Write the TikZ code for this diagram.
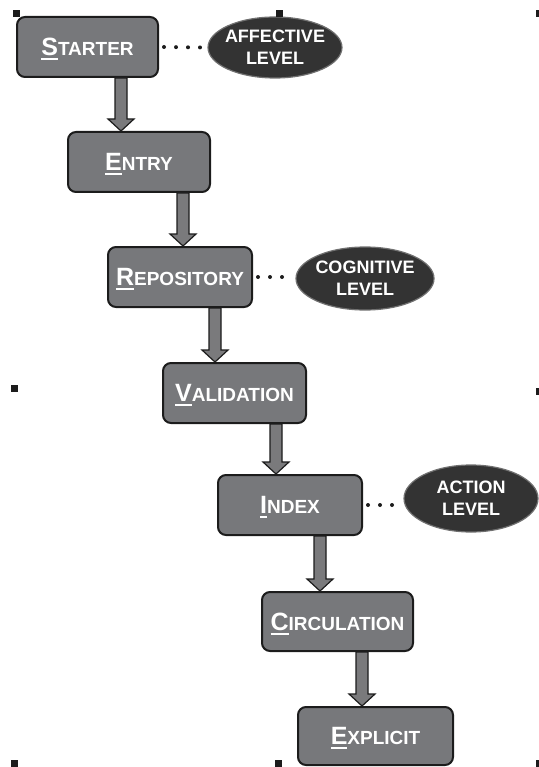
\documentclass[tikz,border=0pt]{standalone}
\usepackage{fontspec}
\setmainfont{Liberation Sans}
\usetikzlibrary{shapes.geometric}

\definecolor{boxgray}{HTML}{77787B}
\definecolor{boxline}{HTML}{1C1C1C}
\definecolor{lvlfill}{HTML}{333333}
\definecolor{lvledge}{HTML}{707070}
\definecolor{arrowgray}{HTML}{7A7A7C}

% first letter large and underlined, rest as small capitals
\newcommand{\capfirst}[2]{{\fontsize{25}{25}\selectfont\setbox0\hbox{#1}%
  \rlap{\smash{\rule[-4.5pt]{\wd0}{2pt}}}\box0}{\fontsize{19}{19}\selectfont #2}}

% broad arrow from the bottom of #1 to the top of #2, shifted by #3
\newcommand{\flowarrow}[3]{%
  \coordinate (ftop) at ([xshift=#3]#1.south);
  \coordinate (fbot) at (ftop |- #2.north);
  \draw[flow] ([xshift=-6pt]ftop) -- ([xshift=-6pt,yshift=12pt]fbot)
    -- ([xshift=-13pt,yshift=12pt]fbot) -- (fbot)
    -- ([xshift=13pt,yshift=12pt]fbot) -- ([xshift=6pt,yshift=12pt]fbot)
    -- ([xshift=6pt]ftop) -- cycle;}

\tikzset{
  stage/.style={draw=boxline, line width=2pt, fill=boxgray, rounded corners=8pt,
    minimum height=60pt, inner sep=0pt, text=white, font=\bfseries},
  level/.style={ellipse, draw=lvledge, line width=1.2pt, fill=lvlfill, inner sep=-8pt,
    text=white, align=center, font=\bfseries\fontsize{18}{22}\selectfont},
  flow/.style={fill=arrowgray, draw=boxline, line width=1.2pt, line join=miter},
  link/.style={draw=boxline, line width=4pt, line cap=round, dash pattern=on 0pt off 12pt},
  handle/.style={fill=boxline}
}

\begin{document}
\begin{tikzpicture}[x=1pt, y=-1pt]
  \useasboundingbox (0,0) rectangle (538,767);

  \node[stage, minimum width=141pt] (starter) at (87.5,47) {\capfirst{S}{TARTER}};
  \node[stage, minimum width=142pt] (entry) at (139,162) {\capfirst{E}{NTRY}};
  \node[stage, minimum width=144pt] (repository) at (180,277) {\capfirst{R}{EPOSITORY}};
  \node[stage, minimum width=143pt] (validation) at (234.5,393) {\capfirst{V}{ALIDATION}};
  \node[stage, minimum width=144pt] (index) at (290,505) {\capfirst{I}{NDEX}};
  \node[stage, minimum width=151pt, minimum height=59pt] (circulation) at (337.5,621.5) {\capfirst{C}{IRCULATION}};
  \node[stage, minimum width=155pt, minimum height=58pt] (explicit) at (375.5,736) {\capfirst{E}{XPLICIT}};

  \node[level, minimum width=134pt, minimum height=61pt] (affective) at (275,47.5) {AFFECTIVE\\LEVEL};
  \node[level, minimum width=138pt, minimum height=63pt] (cognitive) at (365,278.5) {COGNITIVE\\LEVEL};
  \node[level, minimum width=134pt, minimum height=67pt] (action) at (471,498.5) {ACTION\\LEVEL};

  % dotted links to the levels
  \draw[link] ([xshift=5pt]starter.east) -- ([xshift=-4pt]affective.west);
  \draw[link] ([xshift=5pt]repository.east) -- ([xshift=-4pt]repository.east -| cognitive.west);
  \draw[link] ([xshift=5pt]index.east) -- ([xshift=-2pt]index.east -| action.west);

  \flowarrow{starter}{entry}{33.5pt}
  \flowarrow{entry}{repository}{44pt}
  \flowarrow{repository}{validation}{35pt}
  \flowarrow{validation}{index}{41.5pt}
  \flowarrow{index}{circulation}{30pt}
  \flowarrow{circulation}{explicit}{24.5pt}

  % selection handles
  \fill[handle] (13,10) rectangle (20,17);
  \fill[handle] (276,10) rectangle (283,17);
  \fill[handle] (536,10) rectangle (543,17);
  \fill[handle] (11,385) rectangle (18,392);
  \fill[handle] (536,388) rectangle (543,395);
  \fill[handle] (11,760) rectangle (18,767);
  \fill[handle] (275,760) rectangle (282,767);
  \fill[handle] (536,760) rectangle (543,767);
\end{tikzpicture}
\end{document}
